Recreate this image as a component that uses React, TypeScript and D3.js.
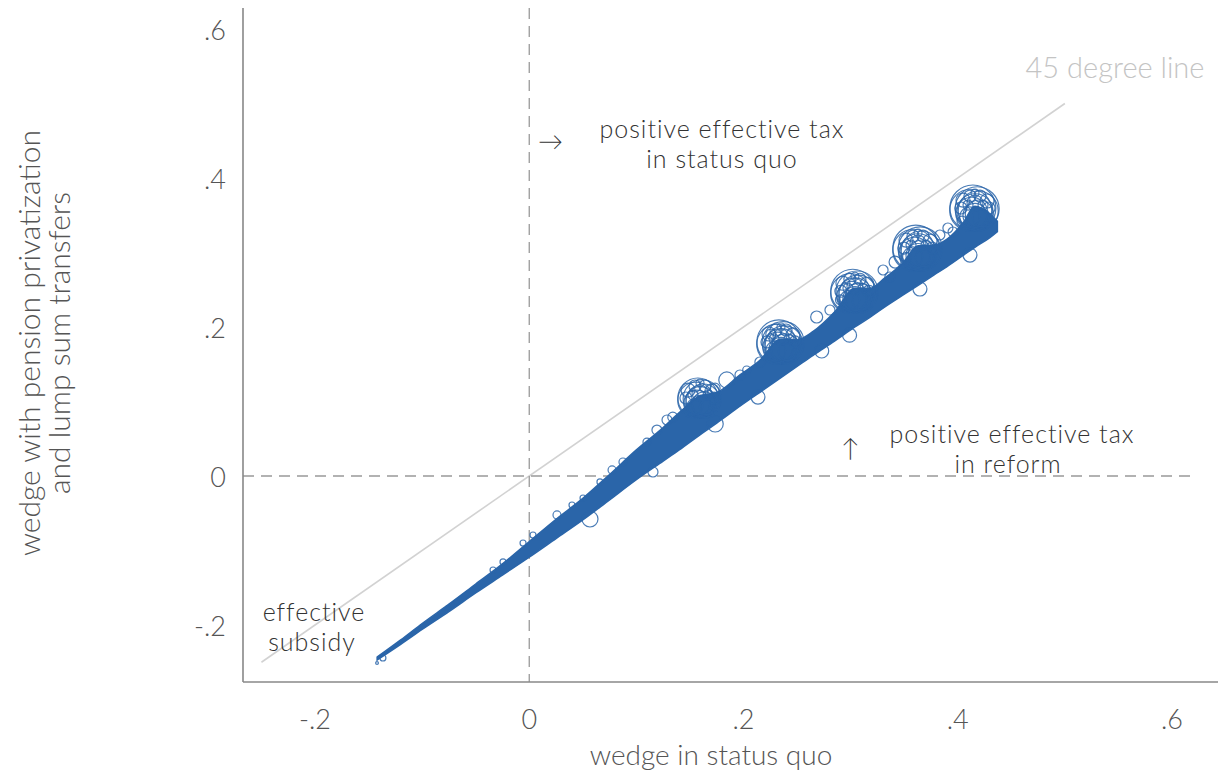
import React from "react";
import * as d3 from "d3";

// ---- data ----
const xTicks = [-0.2, 0, 0.2, 0.4, 0.6];
const xTickLabels = ["-.2", "0", ".2", ".4", ".6"];
const yTicks = [-0.2, 0, 0.2, 0.4, 0.6];
const yTickLabels = ["-.2", "0", ".2", ".4", ".6"];

// dense core of the scatter cloud (lower / upper envelope)
const bandX = [-0.142, -0.12, -0.1, -0.075, -0.05, -0.025, 0, 0.025, 0.05, 0.075, 0.1, 0.125, 0.14, 0.16, 0.175, 0.197, 0.215, 0.235, 0.25, 0.265, 0.285, 0.304, 0.318, 0.332, 0.348, 0.363, 0.378, 0.39, 0.405, 0.416, 0.43, 0.437];
const bandLo = [-0.247, -0.226, -0.206, -0.182, -0.157, -0.133, -0.109, -0.084, -0.059, -0.032, -0.005, 0.02, 0.035, 0.056, 0.071, 0.094, 0.112, 0.132, 0.147, 0.162, 0.181, 0.2, 0.213, 0.227, 0.242, 0.256, 0.27, 0.281, 0.296, 0.307, 0.32, 0.328];
const bandHi = [-0.243, -0.22, -0.198, -0.172, -0.145, -0.118, -0.088, -0.058, -0.03, 0.002, 0.035, 0.065, 0.085, 0.108, 0.112, 0.136, 0.155, 0.184, 0.183, 0.194, 0.22, 0.252, 0.252, 0.266, 0.285, 0.309, 0.31, 0.318, 0.34, 0.362, 0.352, 0.342];

// individual hollow markers (x, y, weight)
const ptX = [
  // cluster near .16
  0.1574, 0.1614, 0.1554, 0.1624, 0.1594, 0.1564, 0.1634, 0.1594, 0.1544, 0.1654,
  0.1482, 0.1547, 0.1641, 0.1706, 0.1594, 0.1463, 0.1725, 0.1529, 0.1669, 0.1594,
  // cluster near .235
  0.233, 0.237, 0.231, 0.238, 0.235, 0.232, 0.239, 0.235, 0.23, 0.241,
  0.2238, 0.2303, 0.2397, 0.2462, 0.235, 0.2219, 0.2481, 0.2285, 0.2425, 0.235,
  // cluster near .30
  0.302, 0.306, 0.3, 0.307, 0.304, 0.301, 0.308, 0.304, 0.299, 0.31,
  0.2928, 0.2993, 0.3087, 0.3152, 0.304, 0.2909, 0.3171, 0.2975, 0.3115, 0.304,
  // cluster near .36
  0.3609, 0.3649, 0.3589, 0.3659, 0.3629, 0.3599, 0.3669, 0.3629, 0.3579, 0.3689,
  0.3517, 0.3582, 0.3676, 0.3741, 0.3629, 0.3498, 0.376, 0.3564, 0.3704, 0.3629,
  // cluster near .42
  0.4141, 0.4181, 0.4121, 0.4191, 0.4161, 0.4131, 0.4201, 0.4161, 0.4111, 0.4221,
  0.4049, 0.4114, 0.4208, 0.4273, 0.4161, 0.403, 0.4292, 0.4096, 0.4236, 0.4161,
  // upper edge
  0.1844, 0.2683, 0.3366, 0.3956, 0.1967, 0.2153, 0.2807, 0.3303, 0.3415, 0.3833, 0.3908, 0.203, 0.1735, 0.2255, 0.2905, 0.352, 0.404,
  0.134, 0.1286, 0.1192, 0.1099, 0.0875, 0.0773, 0.0502, 0.0399, 0.0259, 0.0035, -0.0058, -0.0245, -0.0338, -0.0674, -0.0758, -0.1366, -0.1421,
  // lower edge
  0.1736, 0.2135, 0.273, 0.299, 0.3647, 0.4114, 0.0567, 0.1155, 0.066,
];
const ptY = [
  0.1047, 0.1037, 0.1017, 0.1007, 0.0997, 0.0977, 0.0967, 0.0947, 0.0927, 0.0917,
  0.1154, 0.1208, 0.1208, 0.1141, 0.1114, 0.1047, 0.1047, 0.1087, 0.1087, 0.1248,
  0.1799, 0.1789, 0.1769, 0.1759, 0.1749, 0.1729, 0.1719, 0.1699, 0.1679, 0.1669,
  0.1906, 0.196, 0.196, 0.1893, 0.1866, 0.1799, 0.1799, 0.1839, 0.1839, 0.2,
  0.248, 0.247, 0.245, 0.244, 0.243, 0.241, 0.24, 0.238, 0.236, 0.235,
  0.2587, 0.2641, 0.2641, 0.2574, 0.2547, 0.248, 0.248, 0.252, 0.252, 0.2681,
  0.306, 0.305, 0.303, 0.302, 0.301, 0.299, 0.298, 0.296, 0.294, 0.293,
  0.3167, 0.3221, 0.3221, 0.3154, 0.3127, 0.306, 0.306, 0.31, 0.31, 0.3261,
  0.3597, 0.3587, 0.3567, 0.3557, 0.3547, 0.3527, 0.3517, 0.3497, 0.3477, 0.3467,
  0.3704, 0.3758, 0.3758, 0.3691, 0.3664, 0.3597, 0.3597, 0.3637, 0.3637, 0.3798,
  0.1289, 0.2134, 0.2671, 0.3275, 0.1356, 0.153, 0.2228, 0.2765, 0.2872, 0.3235, 0.3329, 0.1423, 0.118, 0.1905, 0.2365, 0.2935, 0.342,
  0.079, 0.0752, 0.0617, 0.0456, 0.0188, 0.0081, -0.0295, -0.0389, -0.0523, -0.0792, -0.0899, -0.1154, -0.1262, -0.1691, -0.1772, -0.2443, -0.251,
  0.0698, 0.106, 0.1678, 0.189, 0.251, 0.2966, -0.0577, 0.0054, -0.008,
];
const ptW = [
  400, 361, 324, 289, 225, 169, 144, 100, 64, 49,
  49, 36, 36, 49, 64, 36, 36, 25, 25, 16,
  484, 441, 400, 361, 289, 225, 196, 144, 100, 81,
  49, 36, 36, 49, 64, 36, 36, 25, 25, 16,
  484, 441, 400, 361, 289, 225, 196, 144, 100, 81,
  49, 36, 36, 49, 64, 36, 36, 25, 25, 16,
  529, 484, 441, 400, 324, 256, 196, 144, 100, 81,
  49, 36, 36, 49, 64, 36, 36, 25, 25, 16,
  529, 484, 441, 400, 324, 256, 196, 144, 100, 81,
  49, 36, 36, 49, 64, 36, 36, 25, 25, 16,
  64, 36, 25, 25, 25, 25, 25, 25, 36, 25, 25, 16, 25, 25, 25, 25, 25,
  25, 25, 25, 16, 16, 16, 9, 9, 16, 9, 9, 9, 9, 6, 6, 9, 2,
  64, 49, 49, 49, 49, 49, 64, 25, 9,
];

const refLine = [-0.25, 0.5];

// ---- layout ----
const W = 1218;
const H = 772;
const FRAME_LEFT = 243;
const FRAME_BOTTOM = 682;
const FRAME_TOP = 8;
const FRAME_RIGHT = 1218;
const HDASH_END = 1190;
const BLUE = "#2a65a9";
const FONT = "Lato, 'Open Sans', sans-serif";

export default function App() {
  const x = d3.scaleLinear().domain([-0.2, 0.6]).range([315, 1172]);
  const y = d3.scaleLinear().domain([-0.2, 0.6]).range([625, 29]);
  const r = d3.scaleSqrt().domain([0, 484]).range([0, 22]);

  const band = bandX.map((v, i) => ({ x: v, lo: bandLo[i], hi: bandHi[i] }));
  const areaGen = d3
    .area<{ x: number; lo: number; hi: number }>()
    .x((d) => x(d.x))
    .y0((d) => y(d.lo))
    .y1((d) => y(d.hi))
    .curve(d3.curveMonotoneX);

  const pts = ptX.map((v, i) => ({ x: v, y: ptY[i], w: ptW[i] }));

  const tickStyle = { fontFamily: FONT, fontSize: 27, fill: "#555", fontWeight: 300 } as const;
  const titleStyle = { fontFamily: FONT, fontSize: 28, fill: "#555", fontWeight: 300 } as const;
  const annStyle = { fontFamily: FONT, fontSize: 25, fill: "#333", fontWeight: 300, letterSpacing: 1 } as const;

  return (
    <svg width={W} height={H} style={{ position: "absolute", left: 0, top: 0, background: "#fff" }}>
      <rect x={0} y={0} width={W} height={H} fill="#fff" />
      {/* 45 degree line */}
      <line
        x1={x(refLine[0])}
        y1={y(refLine[0])}
        x2={x(refLine[1])}
        y2={y(refLine[1])}
        stroke="#d2d2d2"
        strokeWidth={1.6}
      />
      {/* dashed zero lines */}
      <line x1={x(0)} x2={x(0)} y1={FRAME_TOP} y2={FRAME_BOTTOM} stroke="#999" strokeWidth={1.3} strokeDasharray="11,7" />
      <line x1={FRAME_LEFT} x2={HDASH_END} y1={y(0)} y2={y(0)} stroke="#999" strokeWidth={1.3} strokeDasharray="11,7" />

      {/* scatter core */}
      <path d={areaGen(band) || ""} fill={BLUE} stroke={BLUE} strokeWidth={1.5} />
      {/* hollow markers */}
      <g fill="none" stroke={BLUE} strokeWidth={1.2} strokeOpacity={0.85}>
        {pts.map((p, i) => (
          <circle key={i} cx={x(p.x)} cy={y(p.y)} r={r(p.w)} />
        ))}
      </g>

      {/* axes */}
      <line x1={FRAME_LEFT} x2={FRAME_LEFT} y1={FRAME_TOP} y2={FRAME_BOTTOM} stroke="#888" strokeWidth={1.6} />
      <line x1={FRAME_LEFT} x2={FRAME_RIGHT} y1={FRAME_BOTTOM} y2={FRAME_BOTTOM} stroke="#888" strokeWidth={1.6} />

      {/* tick labels */}
      {xTicks.map((t, i) => (
        <text key={"x" + i} x={x(t)} y={718} textAnchor="middle" dominantBaseline="central" style={tickStyle}>
          {xTickLabels[i]}
        </text>
      ))}
      {yTicks.map((t, i) => (
        <text key={"y" + i} x={226} y={y(t)} textAnchor="end" dominantBaseline="central" style={tickStyle}>
          {yTickLabels[i]}
        </text>
      ))}

      {/* axis titles */}
      <text x={711} y={754} textAnchor="middle" dominantBaseline="central" style={titleStyle}>
        wedge in status quo
      </text>
      <text transform="translate(28,343) rotate(-90)" textAnchor="middle" dominantBaseline="central" style={{ ...titleStyle, fontSize: 30 }}>
        <tspan x={0} y={0}>wedge with pension privatization</tspan>
        <tspan x={0} y={30}>and lump sum transfers</tspan>
      </text>

      {/* annotations */}
      <text x={551} y={140} textAnchor="middle" dominantBaseline="central" style={annStyle}>→</text>
      <text textAnchor="middle" dominantBaseline="central" style={annStyle}>
        <tspan x={722} y={128}>positive effective tax</tspan>
        <tspan x={722} y={158}>in status quo</tspan>
      </text>

      <text x={851} y={447} textAnchor="middle" dominantBaseline="central" style={annStyle}>↑</text>
      <text textAnchor="middle" dominantBaseline="central" style={annStyle}>
        <tspan x={1012} y={433}>positive effective tax</tspan>
        <tspan x={1008} y={463}>in reform</tspan>
      </text>

      <text textAnchor="middle" dominantBaseline="central" style={annStyle}>
        <tspan x={314} y={611}>effective</tspan>
        <tspan x={312} y={641}>subsidy</tspan>
      </text>

      <text x={1115} y={66} textAnchor="middle" dominantBaseline="central" style={{ ...annStyle, letterSpacing: 0, fill: "#c4c4c4", fontSize: 29 }}>
        45 degree line
      </text>
    </svg>
  );
}
